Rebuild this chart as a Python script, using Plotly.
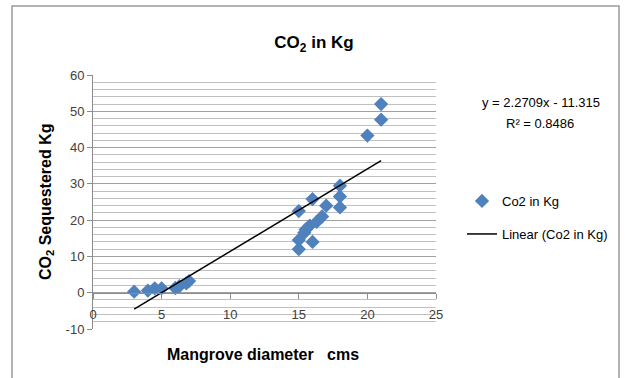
import plotly.graph_objects as go
import numpy as np

# Data
diameter_cm = [3, 4, 4.5, 5, 6, 6.3, 6.8, 7,
               15, 15, 15, 15.4, 15.5, 15.8, 16, 16, 16.3, 16.7, 17,
               18, 18, 18, 20, 21, 21]
co2_kg = [0.3, 0.6, 1.2, 1.2, 1.3, 1.8, 2.6, 3.2,
          22.5, 14.5, 12, 16.5, 17.4, 18.5, 25.8, 14, 19.5, 21, 24,
          29.5, 26.5, 23.5, 43.3, 47.7, 52]

# Trendline coefficients as displayed on the chart
slope = 2.2709
intercept = -11.315
r_squared = 0.8486

series_name = "Co2 in Kg"
trend_name = "Linear (Co2 in Kg)"
title_text = "CO<sub>2</sub> in Kg"
x_title = "Mangrove diameter&nbsp;&nbsp;&nbsp;cms"
y_title = "CO<sub>2</sub> Sequestered Kg"

x_range = [0, 25]
y_range = [-10, 60]
y_ticks = [-10, 0, 10, 20, 30, 40, 50, 60]
y_ticklabels = ["-10", "0", "10", "20", "30", "40", "50", "60"]

FONT = "Liberation Sans Narrow, Arial Narrow, Arial, sans-serif"
W, H = 628, 378
L, R, T, B = 93, 192, 75, 49
pw, ph = W - L - R, H - T - B

def px_x(p):
    return (p - L) / pw

def px_y(p):
    return (H - B - p) / ph

tx = np.array([min(diameter_cm), max(diameter_cm)])
ty = slope * tx + intercept

fig = go.Figure()
fig.add_trace(go.Scatter(
    x=diameter_cm, y=co2_kg, mode="markers", name=series_name,
    marker=dict(symbol="diamond", size=11, color="#4F81BD"),
    legend="legend"))
fig.add_trace(go.Scatter(
    x=tx, y=ty, mode="lines", name=trend_name,
    line=dict(color="black", width=1.5),
    legend="legend2"))

grid_major = "#a0a0a0"
grid_minor = "#c0c0c0"
axis_col = "#8c8c8c"

fig.update_layout(
    width=W, height=H,
    margin=dict(l=L, r=R, t=T, b=B),
    paper_bgcolor="white", plot_bgcolor="white",
    font=dict(family=FONT, size=12, color="#404040"),
    title=dict(text=title_text, x=0.5, xref="container", xanchor="center",
               y=1 - 42 / H, yref="container", yanchor="middle",
               font=dict(family=FONT, size=17, color="black", weight="bold")),
    xaxis=dict(range=x_range, dtick=5, tick0=0, showgrid=False, zeroline=False,
               showline=True, linecolor=axis_col, linewidth=1,
               ticks="outside", ticklen=5, tickcolor=axis_col,
               ticklabelstandoff=5,
               anchor="free", position=(0 - y_range[0]) / (y_range[1] - y_range[0]),
               tickfont=dict(size=13, color="#404040")),
    yaxis=dict(range=y_range, tickmode="array", tickvals=y_ticks, ticktext=y_ticklabels,
               showgrid=True, gridcolor=grid_major,
               gridwidth=1, zeroline=False, showline=True, linecolor=axis_col,
               ticks="outside", ticklen=5, tickcolor=axis_col,
               minor=dict(dtick=2, tick0=0, showgrid=True, gridcolor=grid_minor, gridwidth=1),
               tickfont=dict(size=13, color="#404040")),
    legend=dict(x=px_x(462), y=px_y(201), xanchor="left", yanchor="middle",
                bgcolor="rgba(0,0,0,0)", font=dict(size=13, color="black")),
    legend2=dict(x=px_x(462), y=px_y(234), xanchor="left", yanchor="middle",
                 bgcolor="rgba(0,0,0,0)", font=dict(size=13, color="black")),
    showlegend=True,
)

fig.add_annotation(text=f"y = {slope}x - {abs(intercept)}",
                   xref="paper", yref="paper", x=px_x(541), y=px_y(102),
                   xanchor="center", yanchor="middle", showarrow=False,
                   font=dict(size=13, color="black"))
fig.add_annotation(text=f"R² = {r_squared}",
                   xref="paper", yref="paper", x=px_x(540), y=px_y(123),
                   xanchor="center", yanchor="middle", showarrow=False,
                   font=dict(size=13, color="black"))
fig.add_annotation(text=x_title, xref="paper", yref="paper",
                   x=px_x(263), y=px_y(354), xanchor="center", yanchor="middle",
                   showarrow=False, font=dict(size=16, color="black", weight="bold"))
fig.add_annotation(text=y_title, xref="paper", yref="paper", textangle=-90,
                   x=px_x(46), y=px_y(202), xanchor="center", yanchor="middle",
                   showarrow=False, font=dict(size=16, color="black", weight="bold"))

fig.add_shape(type="rect", xref="paper", yref="paper",
              x0=px_x(12), x1=px_x(619), y0=px_y(385), y1=px_y(6),
              line=dict(color="#9a9a9a", width=1.5), layer="below")

fig.write_html("out.html")
